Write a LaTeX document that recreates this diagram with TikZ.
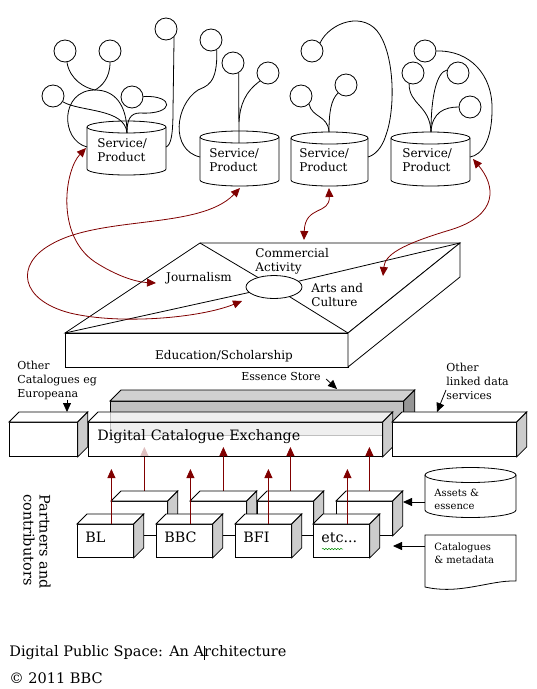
\documentclass[tikz,border=0pt]{standalone}
\usepackage{fontspec}
\setmainfont{DejaVu Serif}
\usetikzlibrary{arrows.meta,shapes.geometric,decorations.pathmorphing}
\definecolor{linkred}{RGB}{128,0,0}
\definecolor{sidegrey}{RGB}{204,204,204}
\definecolor{storegrey}{RGB}{192,192,192}
\definecolor{storetop}{RGB}{208,208,208}
\definecolor{storeside}{RGB}{150,150,150}
% drum: centre x, top y, bottom y, x radius, y radius
\newcommand{\drumshape}[5]{%
  \draw[fill=white] (#1-#4,#2) -- (#1-#4,#3) arc[start angle=180,end angle=360,x radius=#4,y radius=#5] -- (#1+#4,#2);
  \draw[fill=white] (#1,#2) ellipse[x radius=#4,y radius=#5];}
% box faces: node, depth, top fill, side fill
\newcommand{\boxfaces}[4]{%
  \draw[fill=#3] (#1.north west) -- ([shift={(#2,#2)}]#1.north west) -- ([shift={(#2,#2)}]#1.north east) -- (#1.north east) -- cycle;
  \draw[fill=#4] (#1.north east) -- ([shift={(#2,#2)}]#1.north east) -- ([shift={(#2,#2)}]#1.south east) -- (#1.south east) -- cycle;}
\begin{document}
\begin{tikzpicture}[x=1pt,y=1pt,line width=0.8pt,>={Triangle[length=9pt,width=8pt]},
  every node/.style={inner sep=0pt},
  leaf/.style={circle,draw,fill=white,minimum size=22pt},
  link/.style={linkred,<->},
  box/.style={draw,fill=white,anchor=north west,minimum width=56pt,minimum height=33pt},
  lbl/.style={align=left,font=\fontsize{12}{14.5}\selectfont},
  small/.style={align=left,font=\fontsize{11}{14}\selectfont},
  tag/.style={align=left,font=\fontsize{10}{13}\selectfont},
  big/.style={font=\fontsize{14.3}{17}\selectfont}]
\useasboundingbox (0,0) rectangle (537,-689);

\drumshape{126.5}{-127}{-169}{39.5}{6}
\drumshape{239.5}{-137}{-180}{39.5}{6}
\drumshape{329.5}{-138}{-180}{38.5}{6}
\drumshape{430.5}{-138}{-180}{39.5}{6}
\node[lbl,anchor=west] (sp1) at (97,-150) {Service/\\Product};
\node[lbl,anchor=west] (sp2) at (209,-160) {Service/\\Product};
\node[lbl,anchor=west] (sp3) at (299,-160) {Service/\\Product};
\node[lbl,anchor=west] (sp4) at (402,-160) {Service/\\Product};

\node[leaf] (a1) at (65,-51) {};
\node[leaf] (a2) at (110,-51) {};
\node[leaf] (a3) at (53,-96) {};
\node[leaf] (a4) at (132,-97) {};
\node[leaf] (a5) at (166,-29) {};
\coordinate (j1) at (95,-90);
\coordinate (sp1top) at (127,-133);
\coordinate (sp1w) at (87,-147);
\coordinate (sp1e) at (166,-147);
\draw (a1) .. controls (70,-80) and (85,-88) .. (j1);
\draw (a2) .. controls (110,-78) and (102,-86) .. (j1);
\draw (j1) .. controls (60,-90) and (60,-140) .. (sp1w);
\draw (j1) .. controls (115,-90) and (127,-105) .. (sp1top);
\draw (a3) .. controls (80,-112) and (125,-108) .. (sp1top);
\draw (a4) .. controls (175,-95) and (175,-115) .. (140,-113) .. controls (130,-113) and (127,-120) .. (sp1top);
\draw (a5.-45) -- (173,-110) .. controls (173,-135) and (171,-145) .. (sp1e);

\node[leaf] (b1) at (211,-40) {};
\node[leaf] (b2) at (233,-63) {};
\node[leaf] (b3) at (268,-73) {};
\coordinate (sp2top) at (239,-143);
\coordinate (sp2w) at (200,-157);
\draw (b1.-60) .. controls (218,-85) and (206,-86) .. (198,-90) .. controls (175,-105) and (170,-150) .. (sp2w);
\draw (b2.-60) -- (sp2top);
\draw (b3.-135) .. controls (245,-92) and (240,-105) .. (239,-122);

\node[leaf] (c1) at (312,-51) {};
\node[leaf] (c2) at (301,-96) {};
\node[leaf] (c3) at (346,-85) {};
\coordinate (sp3top) at (329,-132);
\coordinate (sp3e) at (368,-157);
\draw (c1.45) .. controls (330,-22) and (365,-10) .. (380,-35) .. controls (395,-60) and (395,-110) .. (386,-135) .. controls (382,-148) and (375,-155) .. (sp3e);
\draw (c2.-45) .. controls (312,-118) and (328,-115) .. (sp3top);
\draw (c3.-135) .. controls (331,-100) and (329,-112) .. (sp3top);

\node[leaf] (d1) at (425,-51) {};
\node[leaf] (d2) at (413,-73) {};
\node[leaf] (d3) at (458,-73) {};
\node[leaf] (d4) at (470,-107) {};
\coordinate (sp4top) at (431,-132);
\coordinate (sp4e) at (470,-157);
\draw (d1.0) .. controls (470,-50) and (493,-75) .. (492,-110) .. controls (492,-140) and (482,-155) .. (sp4e);
\draw (d2.-110) .. controls (409,-105) and (430,-105) .. (sp4top);
\draw (d3.165) .. controls (437,-72) and (431,-95) .. (sp4top);
\draw (d4.180) .. controls (445,-107) and (432,-112) .. (sp4top);

\coordinate (pbl) at (200,-243);
\coordinate (pbr) at (460,-243);
\coordinate (pfr) at (348,-333);
\coordinate (pfl) at (65,-333);
\draw[fill=white] (pfl) -- (pbl) -- (pbr) -- (pfr) -- cycle;
\draw[fill=white] (pfl) rectangle (348,-367);
\draw[fill=white] (pfr) -- (pbr) -- (460,-277) -- (348,-367) -- cycle;
\node[draw,ellipse,minimum width=56pt,minimum height=23pt] (hub) at (274,-287) {};
\draw (pbl) -- (hub);
\draw (pbr) -- (hub);
\draw (pfl) -- (hub);
\draw (pfr) -- (hub);
\node[lbl,anchor=west] (com) at (255,-261.5) {Commercial\\Activity};
\node[lbl] (jour) at (199,-278) {Journalism};
\node[lbl,anchor=west] (arts) at (311,-295) {Arts and\\Culture};
\node[lbl] (edu) at (224,-356) {Education/Scholarship};

\coordinate (sp1in) at (86,-148);
\coordinate (jourin) at (156,-283);
\coordinate (sp2in) at (240,-188);
\coordinate (hubin) at (242,-301);
\coordinate (sp3in) at (329,-188);
\coordinate (topin) at (304,-240);
\coordinate (sp4in) at (473,-159);
\coordinate (artsin) at (383,-276);
\draw[link] (sp1in) .. controls (65,-170) and (55,-235) .. (95,-262) .. controls (115,-275) and (135,-282) .. (jourin);
\draw[link] (sp2in) .. controls (200,-230) and (100,-215) .. (50,-245) .. controls (15,-265) and (20,-300) .. (70,-313) .. controls (120,-325) and (200,-318) .. (hubin);
\draw[link] (sp3in) .. controls (330,-215) and (305,-205) .. (topin);
\draw[link] (sp4in) .. controls (495,-185) and (500,-215) .. (450,-230) .. controls (400,-245) and (385,-255) .. (artsin);

\node[box,fill=storegrey,minimum width=293pt,minimum height=34pt] (ess) at (110,-401) {};
\boxfaces{ess}{11}{storetop}{storeside}
\node[box,minimum width=56pt,minimum height=34pt] (bbl) at (111,-501) {};
\draw[linkred,->] ([shift={(5,10)}]bbl.north) -- ++(0,44);
\node[box,minimum width=68pt,minimum height=34pt] (oc) at (9,-422) {};
\boxfaces{oc}{10}{white}{sidegrey}
\node[box,big,minimum width=294pt,minimum height=34pt,text width=276pt,inner xsep=9pt,align=left,text depth=8pt,fill opacity=0.75,text opacity=1] (dce) at (88,-422) {Digital Catalogue Exchange};
\boxfaces{dce}{10}{white,fill opacity=0.75}{sidegrey}
\node[box,minimum width=124pt,minimum height=34pt] (ld) at (392,-422) {};
\boxfaces{ld}{10}{white}{sidegrey}

\node[box,minimum height=34pt] (bbbc) at (190,-501) {};
\node[box,minimum height=34pt] (bbfi) at (257,-501) {};
\node[box,minimum height=34pt] (betc) at (336,-501) {};
\draw[linkred,->] ([shift={(5,10)}]bbbc.north) -- ++(0,44);
\draw[linkred,->] ([shift={(5,10)}]bbfi.north) -- ++(0,44);
\draw[linkred,->] ([shift={(5,10)}]betc.north) -- ++(0,44);
\node[box,minimum height=34pt] (bbl) at (111,-501) {};
\boxfaces{bbl}{10}{white}{sidegrey}
\boxfaces{bbbc}{10}{white}{sidegrey}
\boxfaces{bbfi}{10}{white}{sidegrey}
\boxfaces{betc}{10}{white}{sidegrey}

\node[box,big,text width=40pt,inner xsep=8pt,align=left,text depth=7pt] (bl) at (77,-524) {BL};
\boxfaces{bl}{10}{white}{sidegrey}
\node[box,big,text width=40pt,inner xsep=8pt,align=left,text depth=7pt] (bbc) at (156,-524) {BBC};
\boxfaces{bbc}{10}{white}{sidegrey}
\node[box,big,text width=40pt,inner xsep=8pt,align=left,text depth=7pt] (bfi) at (235,-524) {BFI};
\boxfaces{bfi}{10}{white}{sidegrey}
\node[box,big,text width=40pt,inner xsep=8pt,align=left,text depth=7pt] (etc) at (313,-524) {etc...};
\boxfaces{etc}{10}{white}{sidegrey}
\draw ([shift={(10,5.5)}]bl.east) -- ([yshift=5.5pt]bbc.west);
\draw ([shift={(10,5.5)}]bbc.east) -- ([yshift=5.5pt]bfi.west);
\draw ([shift={(10,5.5)}]bfi.east) -- ([yshift=5.5pt]etc.west);
\draw[green!55!black,line width=0.5pt,decorate,decoration={snake,amplitude=0.7pt,segment length=3pt}] (322,-549) -- (343,-549);
\draw[linkred,->] ([xshift=6pt]bl.north) -- ++(0,55);
\draw[linkred,->] ([xshift=6pt]bbc.north) -- ++(0,55);
\draw[linkred,->] ([xshift=5pt]bfi.north) -- ++(0,55);
\draw[linkred,->] ([xshift=6pt]etc.north) -- ++(0,55);

\drumshape{470.5}{-475}{-510}{45.5}{7.5}
\node[tag,anchor=west] (assets) at (434,-499) {Assets \&\\essence};
\draw[fill=white] (425,-535) -- (516,-535) -- (516,-581) .. controls (490,-580) and (460,-595) .. (425,-587) -- cycle;
\node[tag,anchor=west] (meta) at (434,-553.5) {Catalogues\\\& metadata};

\node[small,anchor=west] (eur) at (17,-380) {Other\\Catalogues eg\\Europeana};
\node[small] (esslbl) at (281,-376) {Essence Store};
\node[small,anchor=west] (ldlbl) at (446,-381.5) {Other\\linked data\\services};
\coordinate (ocin) at (67,-412);
\coordinate (essin) at (337,-389);
\coordinate (ldout) at (446,-390);
\coordinate (ldin) at (437,-412);
\coordinate (drumw) at (425,-502);
\coordinate (etcin) at (403,-502);
\coordinate (docw) at (425,-546);
\coordinate (frontin) at (393,-546);
\draw[->] (eur.south -| ocin) -- (ocin);
\draw[->] ([shift={(5,-3)}]esslbl.east) -- (essin);
\draw[->] (ldout) -- (ldin);
\draw[->] (drumw) -- (etcin);
\draw[->] (docw) -- (frontin);

\node[big,rotate=-90,anchor=west,align=left,font=\fontsize{14.5}{16}\selectfont] (partners) at (37,-494) {Partners and\\contributors};
\node[anchor=west,font=\fontsize{14.5}{17}\selectfont] (title) at (9,-653) {Digital Public Space: An A\rlap{\kern-0.3pt\rule[-3pt]{0.6pt}{14pt}}rchitecture};
\node[anchor=west,font=\fontsize{14.5}{17}\selectfont] (copy) at (9,-678) {© 2011 BBC};
\end{tikzpicture}
\end{document}
